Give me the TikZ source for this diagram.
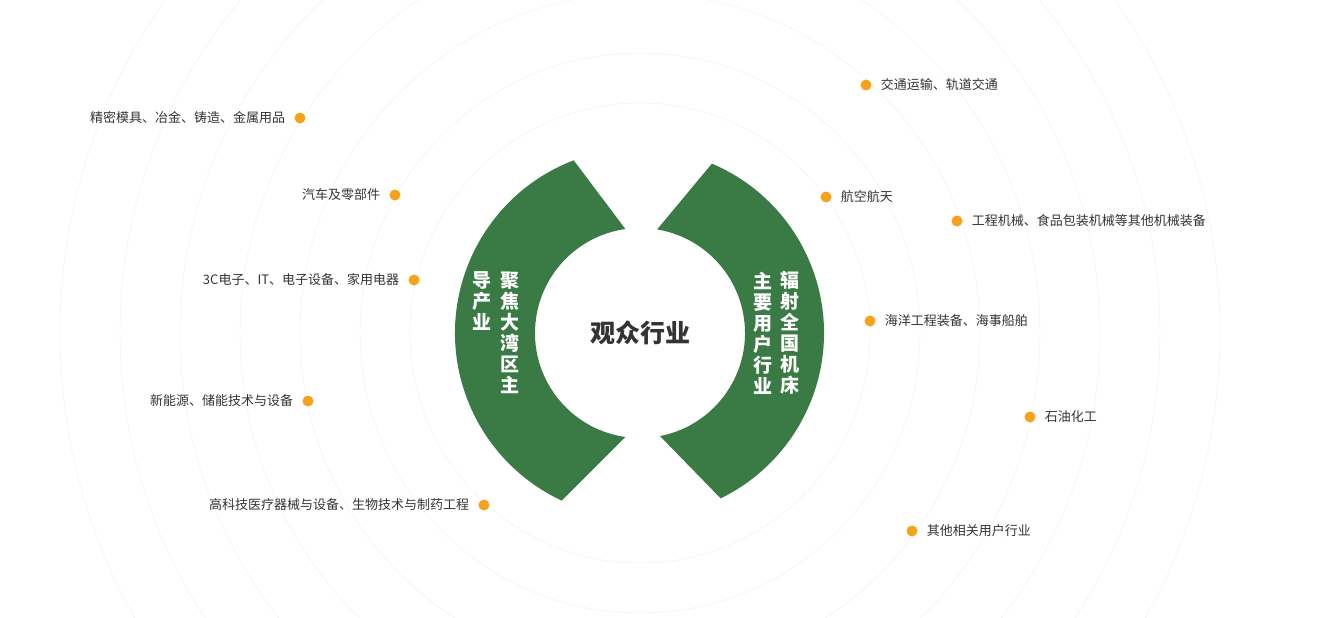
\documentclass[tikz,border=0pt]{standalone}
\usepackage{fontspec}
\newfontfamily\cjk{Noto Sans CJK SC}
\usepackage{xcolor}
\definecolor{arcgreen}{RGB}{58, 122, 69}
\definecolor{dotorange}{RGB}{245, 163, 26}
\definecolor{labeltext}{RGB}{51, 51, 51}
\definecolor{ringgray}{RGB}{236, 238, 238}
\usetikzlibrary{positioning, calc}

\tikzset{
  dot/.style={circle,fill=dotorange,minimum size=11pt,inner sep=0pt},
  lbl/.style={font=\cjk\fontsize{13}{13}\selectfont,text=labeltext,inner sep=0pt},
  vtext/.style={font=\cjk\bfseries\fontsize{19}{21}\selectfont,text=white,align=center,inner sep=0pt}
}

\begin{document}
\begin{tikzpicture}[x=1pt,y=-1pt]
  \useasboundingbox (0,0) rectangle (1331,618);
  \begin{scope}
    \clip (0,0) rectangle (1331,618);
    \foreach \r in {230,280,340,400,460,520,580}
      \draw[ringgray] (640,333) circle (\r);
  \end{scope}
  % green arcs
  \fill[arcgreen] (640,333) ++(-111:185) arc[start angle=-111,end angle=-245,radius=185]
    -- ($(640,333)+(-262:105)$) arc[start angle=-262,end angle=-98,radius=105] -- cycle;
  \fill[arcgreen] (640,333) ++(-67:184) arc[start angle=-67,end angle=64,radius=184]
    -- ($(640,333)+(79:105)$) arc[start angle=79,end angle=-80.6,radius=105] -- cycle;
  \node[font=\cjk\bfseries\fontsize{25}{25}\selectfont,text=labeltext] (title) at (640,333) {观众行业};
  \node[vtext] (l1) at (510,333) {聚\\焦\\大\\湾\\区\\主};
  \node[vtext,anchor=north] (l2) at ($(l1.north)+(-28,0)$) {导\\产\\业};
  \node[vtext] (r1) at (790,333) {辐\\射\\全\\国\\机\\床};
  \node[vtext] (r2) at (763,333) {主\\要\\用\\户\\行\\业};
  % left labels
  \foreach \x/\y/\t [count=\i] in {300/118/精密模具、冶金、铸造、金属用品,
      395/195/汽车及零部件,
      414/280/3C电子、IT、电子设备、家用电器,
      308/401/新能源、储能技术与设备,
      484/505/高科技医疗器械与设备、生物技术与制药工程} {
    \node[dot] (ld\i) at (\x,\y) {};
    \node[lbl,left=9pt of ld\i] (lt\i) {\t};
  }
  % right labels
  \foreach \x/\y/\t [count=\i] in {866/85/交通运输、轨道交通,
      826/197/航空航天,
      957/221/工程机械、食品包装机械等其他机械装备,
      870/321/海洋工程装备、海事船舶,
      1030/417/石油化工,
      912/531/其他相关用户行业} {
    \node[dot] (rd\i) at (\x,\y) {};
    \node[lbl,right=9pt of rd\i] (rt\i) {\t};
  }
\end{tikzpicture}
\end{document}
